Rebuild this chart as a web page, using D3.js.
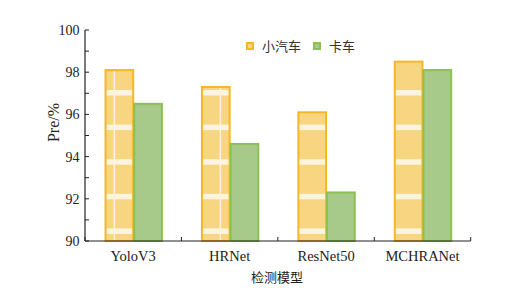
<!DOCTYPE html>
<html>
<head>
<meta charset="utf-8">
<script src="https://cdn.jsdelivr.net/npm/d3@7"></script>
<style>
  body { margin: 0; background: #fff; }
  svg { display: block; }
</style>
</head>
<body>
<svg width="521" height="296"></svg>
<script>
const models = ["YoloV3", "HRNet", "ResNet50", "MCHRANet"];
const seriesNames = ["小汽车", "卡车"];
const carValues = [98.1, 97.3, 96.1, 98.5];
const truckValues = [96.5, 94.6, 92.3, 98.1];
const yTicks = [90, 92, 94, 96, 98, 100];

const rows = models.map((m, i) => ({ model: m, "小汽车": carValues[i], "卡车": truckValues[i] }));

const svg = d3.select("svg");
const serif = "'Liberation Serif', 'Times New Roman', serif";
const cjk = "'Noto Sans CJK SC', sans-serif";

const plotLeft = 85, plotRight = 470.7, plotTop = 30, plotBottom = 241;

const x0 = d3.scaleBand().domain(models).range([plotLeft, plotRight]).padding(0);
const x1 = d3.scaleBand().domain(seriesNames).range([0, x0.bandwidth()]).paddingInner(0).paddingOuter(0.68);
const y = d3.scaleLinear().domain([90, 100]).range([plotBottom, plotTop]);

const colors = {
  "小汽车": { stroke: "#F4B922", fill: "#F8D581" },
  "卡车": { stroke: "#8CC152", fill: "#A7CA8B" }
};

const defs = svg.append("defs");

// bars
const groups = svg.append("g").selectAll("g")
  .data(rows)
  .join("g")
  .attr("transform", d => `translate(${x0(d.model)},0)`);

const bars = groups.selectAll("g")
  .data((d, i) => seriesNames.map(k => ({ key: k, value: d[k], idx: i })))
  .join("g");

bars.append("rect")
  .attr("x", d => x1(d.key) + 1)
  .attr("y", d => y(d.value))
  .attr("width", x1.bandwidth() - 1)
  .attr("height", d => y(90) - y(d.value))
  .attr("fill", d => colors[d.key].fill);

// light stripes across the car bars (clipped to each bar)
const carBars = bars.filter(d => d.key === "小汽车");
carBars.each(function(d) {
  const id = "clip" + d.idx;
  defs.append("clipPath").attr("id", id)
    .append("rect")
    .attr("x", x0(models[d.idx]) + x1(d.key) + 1)
    .attr("y", y(d.value))
    .attr("width", x1.bandwidth() - 1)
    .attr("height", y(90) - y(d.value));
  const g = d3.select(this).append("g")
    .attr("transform", `translate(${-x0(models[d.idx])},0)`)
    .attr("clip-path", `url(#${id})`);
  g.selectAll("rect.stripe")
    .data(d3.range(0, 7))
    .join("rect")
    .attr("class", "stripe")
    .attr("x", plotLeft).attr("width", plotRight - plotLeft)
    .attr("y", k => 90 - 34.6 + k * 34.6).attr("height", 5.5)
    .attr("fill", "#FDF4DF");
  g.selectAll("rect.vline")
    .data([113.6, 219.6])
    .join("rect")
    .attr("class", "vline")
    .attr("x", v => v).attr("width", 1.5)
    .attr("y", plotTop).attr("height", plotBottom - plotTop)
    .attr("fill", "#FDF4DF");
});

bars.append("rect")
  .attr("x", d => x1(d.key) + 1)
  .attr("y", d => y(d.value))
  .attr("width", x1.bandwidth() - 1)
  .attr("height", d => y(90) - y(d.value))
  .attr("fill", "none")
  .attr("stroke", d => colors[d.key].stroke)
  .attr("stroke-width", 2);

// y axis
const yAxis = svg.append("g")
  .attr("transform", `translate(${plotLeft},0)`)
  .call(d3.axisLeft(y).tickValues(yTicks).tickSize(0).tickPadding(5.5));
yAxis.select(".domain").remove();
yAxis.selectAll("text").attr("font-family", serif).attr("font-size", 14).attr("fill", "#222");

svg.append("g")
  .selectAll("line")
  .data(d3.range(90, 101, 1))
  .join("line")
  .attr("x1", plotLeft).attr("x2", plotLeft + 4)
  .attr("y1", d => y(d)).attr("y2", d => y(d))
  .attr("stroke", "#222").attr("stroke-width", 1);

svg.append("line")
  .attr("x1", plotLeft).attr("x2", plotLeft)
  .attr("y1", plotTop).attr("y2", plotBottom)
  .attr("stroke", "#222").attr("stroke-width", 1.2);

// x axis
const xAxis = svg.append("g")
  .attr("transform", `translate(0,${plotBottom})`)
  .call(d3.axisBottom(x0).tickSize(0).tickPadding(10));
xAxis.select(".domain").remove();
xAxis.selectAll("text").attr("font-family", serif).attr("font-size", 14.5).attr("fill", "#222");

svg.append("line")
  .attr("x1", plotLeft).attr("x2", plotRight)
  .attr("y1", plotBottom).attr("y2", plotBottom)
  .attr("stroke", "#222").attr("stroke-width", 1.2);

svg.append("g")
  .selectAll("line")
  .data(models.map(m => x0(m)).concat([plotRight]))
  .join("line")
  .attr("x1", d => d).attr("x2", d => d)
  .attr("y1", plotBottom).attr("y2", plotBottom - 4)
  .attr("stroke", "#222").attr("stroke-width", 1);

// axis titles
svg.append("text")
  .attr("transform", "translate(58.5,122.5) rotate(-90)")
  .attr("text-anchor", "middle")
  .attr("font-family", serif).attr("font-size", 16).attr("fill", "#222")
  .text("Pre/%");

svg.append("text")
  .attr("x", 277).attr("y", 282)
  .attr("text-anchor", "middle")
  .attr("font-family", cjk).attr("font-size", 13).attr("fill", "#222")
  .text("检测模型");

// legend
const legendX = [247, 314];
const legend = svg.append("g").selectAll("g")
  .data(seriesNames)
  .join("g")
  .attr("transform", (d, i) => `translate(${legendX[i]},43)`);
legend.append("rect")
  .attr("width", 6).attr("height", 6)
  .attr("fill", d => colors[d].fill)
  .attr("stroke", d => colors[d].stroke)
  .attr("stroke-width", 2);
legend.append("text")
  .attr("x", 15).attr("y", 8)
  .attr("font-family", cjk).attr("font-size", 13).attr("fill", "#333")
  .text(d => d);
</script>
</body>
</html>
